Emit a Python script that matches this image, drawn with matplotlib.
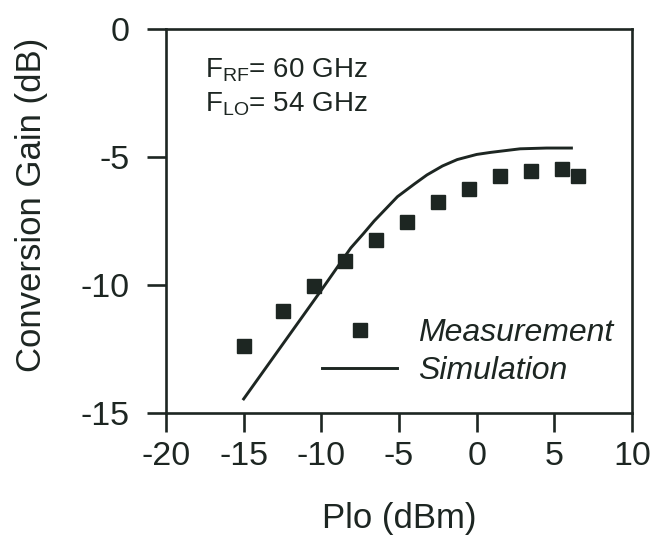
import matplotlib
matplotlib.use("Agg")
import matplotlib.pyplot as plt

plt.rcParams["font.family"] = ["Liberation Sans", "DejaVu Sans"]
plt.rcParams["mathtext.fontset"] = "custom"
plt.rcParams["mathtext.rm"] = "Liberation Sans"

INK = "#1d2622"

# measured conversion gain vs LO power
meas_plo = [-15, -12.5, -10.5, -8.5, -6.5, -4.5, -2.5, -0.5, 1.5, 3.5, 5.5, 6.5]
meas_gain = [-12.4, -11.0, -10.05, -9.05, -8.25, -7.55, -6.75, -6.25, -5.75, -5.55, -5.45, -5.75]

# simulated curve
sim_plo = [-15, -12, -10, -8.1, -7.3, -6.6, -5.1, -4.0, -3.2, -2.2, -1.25, 0, 0.9, 2.8, 4.5, 6.1]
sim_gain = [-14.45, -11.9, -10.2, -8.55, -8.0, -7.5, -6.55, -6.05, -5.7, -5.35, -5.1, -4.9, -4.82, -4.68, -4.65, -4.65]

xticks = [-20, -15, -10, -5, 0, 5, 10]
yticks = [0, -5, -10, -15]

fig = plt.figure(figsize=(6.57, 5.59), dpi=100)
ax = fig.add_axes([166/657, 1-413/559, 466/657, 384/559])

ax.plot(sim_plo, sim_gain, color=INK, lw=2.1, label="Simulation")
ax.plot(meas_plo, meas_gain, ls="none", marker="s", ms=10.5, color=INK, label="Measurement")

ax.set_xlim(-20, 10)
ax.set_ylim(-15, 0)
ax.set_xticks(xticks)
ax.set_yticks(yticks)
ax.set_xticklabels([str(v) for v in xticks])
ax.set_yticklabels([str(v) for v in yticks])

for s in ax.spines.values():
    s.set_linewidth(1.9)
    s.set_color(INK)
ax.tick_params(direction="out", length=14, width=1.9, color=INK, labelsize=24.5,
               labelcolor=INK)
ax.tick_params(axis="x", pad=6)
ax.tick_params(axis="y", pad=12)

ax.set_xlabel("Plo (dBm)", fontsize=25, color=INK, labelpad=22)
fig.text(32/657, 1-205/559, "Conversion Gain (dB)", rotation=90, fontsize=25,
         color=INK, ha="center", va="center")

ax.text(-17.48, -1.875, r"F$_{\mathrm{RF}}$= 60 GHz", fontsize=20, color=INK, va="baseline")
ax.text(-17.48, -3.22, r"F$_{\mathrm{LO}}$= 54 GHz", fontsize=20, color=INK, va="baseline")

h, l = ax.get_legend_handles_labels()
leg = ax.legend([h[1], h[0]], [l[1], l[0]], loc="upper left",
                bbox_to_anchor=((322-166)/466, (413-318)/384),
                frameon=False, borderpad=0, borderaxespad=0,
                handlelength=2.35, handletextpad=0.65, labelspacing=0.25,
                prop={"size": 23, "style": "italic"})
for t in leg.get_texts():
    t.set_color(INK)

fig.savefig("out.png", dpi=100)
